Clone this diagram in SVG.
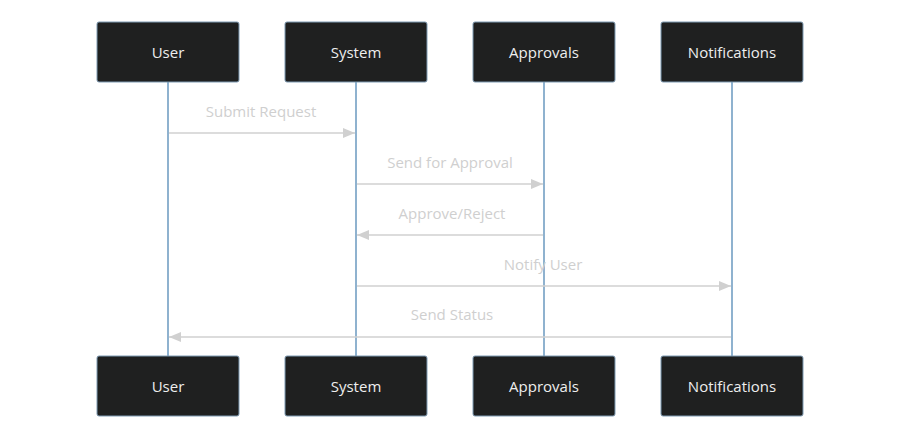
<svg xmlns="http://www.w3.org/2000/svg" width="899" height="444" viewBox="0 0 899 444">
<defs>
<style>
.actor{fill:#1f2020;stroke:#7f9bb3;stroke-width:1}
.atext{fill:#eeeeee;font-family:"Open Sans","DejaVu Sans",sans-serif;font-size:15px;text-anchor:middle;dominant-baseline:central}
.life{stroke:#8fb2cf;stroke-width:2}
.msg{stroke:#d0d0d0;stroke-width:1.5;fill:none}
.mtext{fill:#cfcfcf;font-family:"Open Sans","DejaVu Sans",sans-serif;font-size:15px;text-anchor:middle;dominant-baseline:central}
</style>
<marker id="ah" viewBox="0 0 12 10" refX="12" refY="5" markerWidth="12" markerHeight="10" markerUnits="userSpaceOnUse" orient="auto">
<path d="M0,0 L12,5 L0,10 z" fill="#d0d0d0"/>
</marker>
</defs>
<rect width="899" height="444" fill="#ffffff"/>
<g id="lifelines">
<line class="life" x1="168" y1="82" x2="168" y2="356"/>
<line class="life" x1="356" y1="82" x2="356" y2="356"/>
<line class="life" x1="544" y1="82" x2="544" y2="356"/>
<line class="life" x1="732" y1="82" x2="732" y2="356"/>
</g>
<g id="connectors">
<line class="msg" x1="169" y1="133" x2="355" y2="133" marker-end="url(#ah)"/>
<text class="mtext" x="261" y="111">Submit Request</text>
<line class="msg" x1="357" y1="184" x2="543" y2="184" marker-end="url(#ah)"/>
<text class="mtext" x="450" y="162">Send for Approval</text>
<line class="msg" x1="543" y1="235" x2="357" y2="235" marker-end="url(#ah)"/>
<text class="mtext" x="452" y="213">Approve/Reject</text>
<line class="msg" x1="357" y1="286" x2="731" y2="286" marker-end="url(#ah)"/>
<text class="mtext" x="543" y="264">Notify User</text>
<line class="msg" x1="731" y1="337" x2="169" y2="337" marker-end="url(#ah)"/>
<text class="mtext" x="452" y="314">Send Status</text>
</g>
<g id="user-top"><rect class="actor" x="97" y="22" width="142" height="60" rx="2"/><text class="atext" x="168" y="52">User</text></g>
<g id="system-top"><rect class="actor" x="285" y="22" width="142" height="60" rx="2"/><text class="atext" x="356" y="52">System</text></g>
<g id="approvals-top"><rect class="actor" x="473" y="22" width="142" height="60" rx="2"/><text class="atext" x="544" y="52">Approvals</text></g>
<g id="notifications-top"><rect class="actor" x="661" y="22" width="142" height="60" rx="2"/><text class="atext" x="732" y="52">Notifications</text></g>
<g id="user-bottom"><rect class="actor" x="97" y="356" width="142" height="60" rx="2"/><text class="atext" x="168" y="386">User</text></g>
<g id="system-bottom"><rect class="actor" x="285" y="356" width="142" height="60" rx="2"/><text class="atext" x="356" y="386">System</text></g>
<g id="approvals-bottom"><rect class="actor" x="473" y="356" width="142" height="60" rx="2"/><text class="atext" x="544" y="386">Approvals</text></g>
<g id="notifications-bottom"><rect class="actor" x="661" y="356" width="142" height="60" rx="2"/><text class="atext" x="732" y="386">Notifications</text></g>
</svg>
